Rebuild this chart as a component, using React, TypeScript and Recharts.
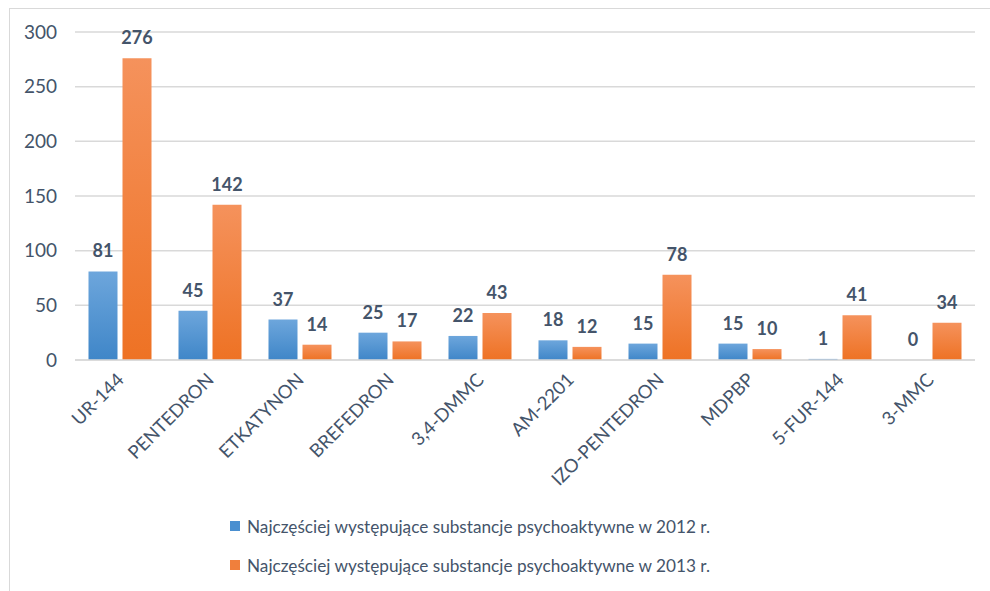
import React from 'react';
import { BarChart, Bar, XAxis, YAxis, CartesianGrid, LabelList } from 'recharts';

const categories = ['UR-144', 'PENTEDRON', 'ETKATYNON', 'BREFEDRON', '3,4-DMMC', 'AM-2201', 'IZO-PENTEDRON', 'MDPBP', '5-FUR-144', '3-MMC'];
const values2012 = [81, 45, 37, 25, 22, 18, 15, 15, 1, 0];
const values2013 = [276, 142, 14, 17, 43, 12, 78, 10, 41, 34];
const yTicks = [0, 50, 100, 150, 200, 250, 300];
const seriesNames = [
  'Najczęściej występujące substancje psychoaktywne w 2012 r.',
  'Najczęściej występujące substancje psychoaktywne w 2013 r.',
];

const data = categories.map((c, i) => ({ name: c, a: values2012[i], b: values2013[i] }));

const FONT = 'Lato, "Open Sans", sans-serif';
const TEXT = '#44546a';

const XTick = (props: any) => {
  const { x, y, payload } = props;
  return (
    <g transform={`translate(${x + 5},${y + 13})`}>
      <text x={0} y={0} textAnchor="end" transform="rotate(-45)" fill={TEXT} fontSize={18.5} fontFamily={FONT}>
        {payload.value}
      </text>
    </g>
  );
};

const ValueLabel = (props: any) => {
  const { x, y, width, value } = props;
  return (
    <text x={Number(x) + Number(width) / 2} y={Number(y) - 14} textAnchor="middle" fill={TEXT} fontSize={18} fontWeight="bold" fontFamily={FONT}>
      {value}
    </text>
  );
};

export default function App() {
  return (
    <div style={{ position: 'absolute', left: 0, top: 0, width: 990, height: 591, background: '#fff', overflow: 'hidden' }}>
      <div style={{ position: 'absolute', left: 9, top: 8, width: 1000, height: 600, border: '1px solid #d9d9d9', boxSizing: 'border-box' }} />
      <div style={{ position: 'absolute', left: 0, top: 0 }}>
        <BarChart width={990} height={591} data={data} margin={{ top: 32, right: 15, left: 15, bottom: 201 }} barCategoryGap="15%" barGap={5}>
          <defs>
            <linearGradient id="gBlue" x1="0" y1="0" x2="0" y2="1">
              <stop offset="0%" stopColor="#6da6dc" />
              <stop offset="100%" stopColor="#3f86c8" />
            </linearGradient>
            <linearGradient id="gOrange" x1="0" y1="0" x2="0" y2="1">
              <stop offset="0%" stopColor="#f5925c" />
              <stop offset="100%" stopColor="#ee7224" />
            </linearGradient>
          </defs>
          <CartesianGrid vertical={false} stroke="#d9d9d9" strokeWidth={1.5} />
          <XAxis dataKey="name" height={30} axisLine={{ stroke: '#d9d9d9', strokeWidth: 1.5 }} tickLine={false} tick={<XTick />} interval={0} />
          <YAxis domain={[0, 300]} ticks={yTicks} width={60} axisLine={false} tickLine={false}
            tick={{ fill: TEXT, fontSize: 19, fontFamily: FONT }} tickMargin={12} />
          <Bar dataKey="a" fill="url(#gBlue)" isAnimationActive={false}
            minPointSize={(v: any) => (v === 0 ? 0.01 : 0)}>
            <LabelList dataKey="a" content={<ValueLabel />} />
          </Bar>
          <Bar dataKey="b" fill="url(#gOrange)" isAnimationActive={false}>
            <LabelList dataKey="b" content={<ValueLabel />} />
          </Bar>
        </BarChart>
      </div>
      <div style={{ position: 'absolute', left: 230, top: 514, fontFamily: FONT, fontSize: 17.2, color: TEXT }}>
        {seriesNames.map((n, i) => (
          <div key={n} style={{ display: 'flex', alignItems: 'center', height: 24, marginBottom: 15 }}>
            <span style={{ width: 10, height: 10, background: i === 0 ? '#4a8fd0' : '#f07f3c', marginRight: 7, display: 'inline-block' }} />
            <span>{n}</span>
          </div>
        ))}
      </div>
    </div>
  );
}
